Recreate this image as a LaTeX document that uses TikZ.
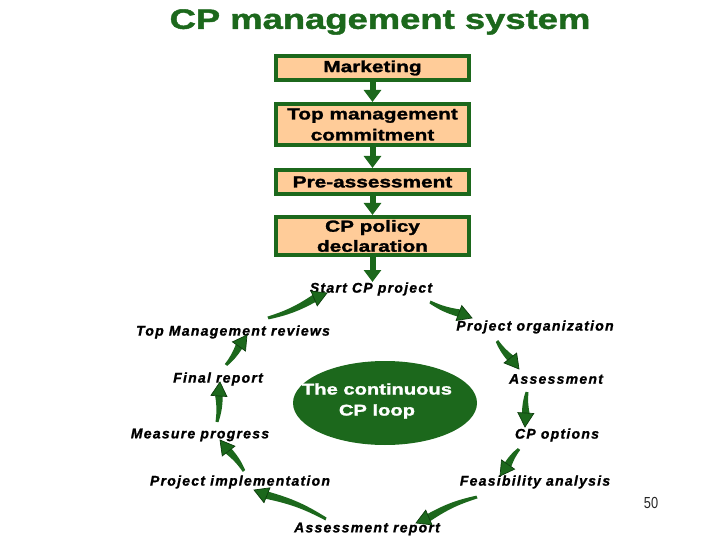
\documentclass[tikz,border=0pt]{standalone}
\usepackage{fontspec}
\usetikzlibrary{arrows.meta,shapes.geometric,calc}
\newfontfamily\blk{Liberation Sans}[FakeStretch=1.3,FakeBold=1.6]
\newfontfamily\lpf{Liberation Sans}[LetterSpace=9,FakeBold=1.2]
\newfontfamily\numf{Liberation Sans}[FakeStretch=0.8]
\definecolor{cpgreen}{RGB}{28,104,28}
\definecolor{cpdark}{RGB}{12,60,12}
\definecolor{cppeach}{RGB}{255,204,153}
\tikzset{
  stepbox/.style={draw=cpgreen, fill=cppeach, line width=4pt, minimum width=193pt,
    inner sep=0pt, align=center, font=\blk\bfseries\fontsize{16}{21}\selectfont},
  boxarrow/.style={draw=cpgreen, line width=6pt, -{Triangle[length=12pt,width=17pt,fill=cpgreen]}},
  looplabel/.style={inner sep=0pt, font=\lpf\bfseries\itshape\fontsize{14}{16}\selectfont},
}
\newcommand\taperarrow[2]{%
  \path ($(#2)!14pt!(#1)$) coordinate (hb);
  \fill[cpgreen] ($(#1)!1.5pt!90:(#2)$) to[bend right=8] ($(hb)!3.8pt!90:(#2)$)
     -- ($(hb)!3.8pt!-90:(#2)$) to[bend left=8] ($(#1)!1.5pt!-90:(#2)$) -- cycle;
  \filldraw[fill=cpgreen, draw=cpdark, line width=0.7pt, line join=miter]
     ($(hb)!8pt!90:(#2)$) -- (#2) -- ($(hb)!8pt!-90:(#2)$) -- cycle;
}
\begin{document}
\begin{tikzpicture}[x=1pt,y=-1pt]
\useasboundingbox (0,0) rectangle (720,540);
% title
\node[text=cpgreen, font=\blk\bfseries\fontsize{28}{32}\selectfont, inner sep=0pt] (title) at (380,22) {CP management system};
% boxes
\node[stepbox, minimum height=24pt] (mk) at (372.5,68) {Marketing};
\node[stepbox, minimum height=41pt] (tm) at (372.5,124.5) {Top management\\commitment};
\node[stepbox, minimum height=24pt] (pa) at (372.5,182) {Pre-assessment};
\node[stepbox, minimum height=38pt] (cp) at (372.5,236) {CP policy\\[-1pt]declaration};
\coordinate (starttop) at (372.5,282);
\draw[boxarrow] (mk.south) -- (tm.north);
\draw[boxarrow] (tm.south) -- (pa.north);
\draw[boxarrow] (pa.south) -- (cp.north);
\draw[boxarrow] (cp.south) -- (starttop);
% central ellipse
\node[ellipse, fill=cpgreen, minimum width=184pt, minimum height=84pt, inner sep=0pt] (loop) at (385,403) {};
\node[text=white, align=center, inner sep=0pt, font=\blk\bfseries\fontsize{15.5}{21}\selectfont] (looptext) at (377,401) {The continuous\\CP loop};
% loop labels
\node[looplabel] (start) at (371,289) {Start CP project};
\node[looplabel] (porg) at (535,327) {Project organization};
\node[looplabel] (ass) at (556,379) {Assessment};
\node[looplabel] (opt) at (557,435) {CP options};
\node[looplabel] (feas) at (535,482) {Feasibility analysis};
\node[looplabel] (arep) at (367,529) {Assessment report};
\node[looplabel] (pimp) at (240,482) {Project implementation};
\node[looplabel] (meas) at (200,435) {Measure progress};
\node[looplabel] (frep) at (218,379) {Final report};
\node[looplabel] (tmr) at (233,332) {Top Management reviews};
% loop arrow ends
\coordinate (a1t) at (430,302); \coordinate (a1h) at (472,318);
\coordinate (a2t) at (497,341); \coordinate (a2h) at (519,369);
\coordinate (a3t) at (527,392); \coordinate (a3h) at (525,427);
\coordinate (a4t) at (519,449); \coordinate (a4h) at (500,476);
\coordinate (a5t) at (477,497); \coordinate (a5h) at (416,523);
\coordinate (a6t) at (326,519); \coordinate (a6h) at (254,490);
\coordinate (a7t) at (244,471); \coordinate (a7h) at (220,440);
\coordinate (a8t) at (217,422); \coordinate (a8h) at (220,382);
\coordinate (a9t) at (226,365); \coordinate (a9h) at (247,335);
\coordinate (a10t) at (268,318); \coordinate (a10h) at (327,293);
\taperarrow{a1t}{a1h}
\taperarrow{a2t}{a2h}
\taperarrow{a3t}{a3h}
\taperarrow{a4t}{a4h}
\taperarrow{a5t}{a5h}
\taperarrow{a6t}{a6h}
\taperarrow{a7t}{a7h}
\taperarrow{a8t}{a8h}
\taperarrow{a9t}{a9h}
\taperarrow{a10t}{a10h}
% page number
\node[font=\numf\fontsize{16}{18}\selectfont, inner sep=0pt, text=black!85] (pnum) at (651,503) {50};
\end{tikzpicture}
\end{document}
